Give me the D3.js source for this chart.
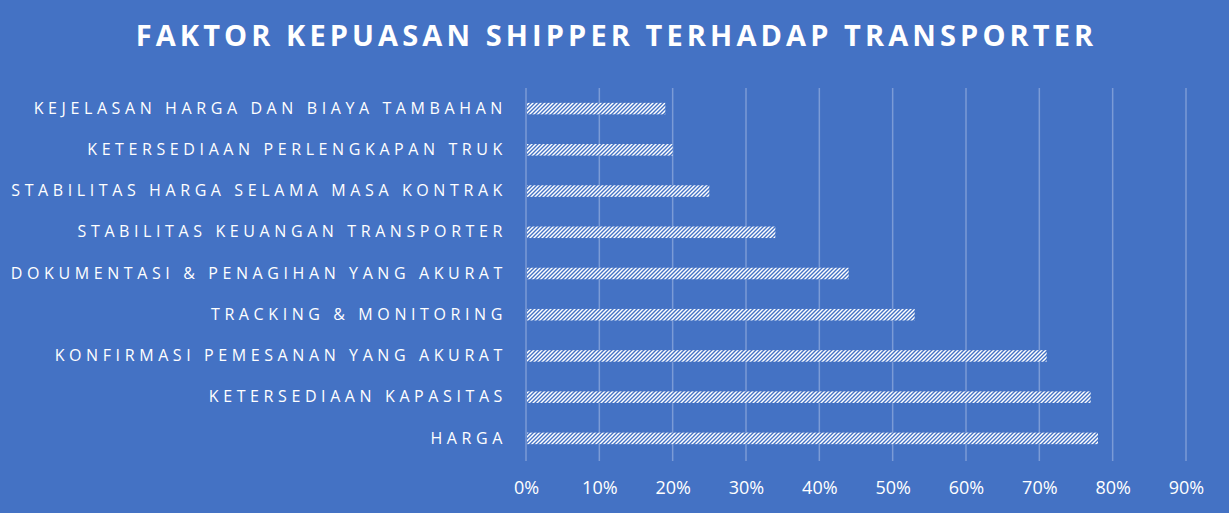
<!DOCTYPE html>
<html>
<head>
<meta charset="utf-8">
<script src="https://cdn.jsdelivr.net/npm/d3@7"></script>
<style>
  body { margin: 0; background: #4472c4; }
  svg text { fill: #fff; }
</style>
</head>
<body>
<div id="chart"></div>
<script>
// data (top to bottom)
var categories = [
  "KEJELASAN HARGA DAN BIAYA TAMBAHAN",
  "KETERSEDIAAN PERLENGKAPAN TRUK",
  "STABILITAS HARGA SELAMA MASA KONTRAK",
  "STABILITAS KEUANGAN TRANSPORTER",
  "DOKUMENTASI & PENAGIHAN YANG AKURAT",
  "TRACKING & MONITORING",
  "KONFIRMASI PEMESANAN YANG AKURAT",
  "KETERSEDIAAN KAPASITAS",
  "HARGA"
];
var values = [0.19, 0.20, 0.25, 0.34, 0.44, 0.53, 0.71, 0.77, 0.78];
var tickValues = [0, 0.1, 0.2, 0.3, 0.4, 0.5, 0.6, 0.7, 0.8, 0.9];
var title = "FAKTOR KEPUASAN SHIPPER TERHADAP TRANSPORTER";

var W = 1229, H = 513;
var margin = {top: 88, right: 43, bottom: 54, left: 526},
    width = W - margin.left - margin.right,
    height = H - margin.top - margin.bottom;

var svg = d3.select("#chart")
  .append("svg")
    .attr("width", W)
    .attr("height", H);

svg.append("rect")
  .attr("width", W).attr("height", H)
  .attr("fill", "#4472c4");

// striped fill for the bars
var pat = svg.append("defs").append("pattern")
  .attr("id", "stripes")
  .attr("patternUnits", "userSpaceOnUse")
  .attr("width", 4).attr("height", 4);
pat.append("rect").attr("width", 4).attr("height", 4).attr("fill", "#fff");
pat.append("path")
  .attr("d", "M-1,1 l2,-2 M0,4 l4,-4 M3,5 l2,-2")
  .attr("stroke", "#4472c4")
  .attr("stroke-width", 1.4);

svg.append("text")
  .attr("x", W / 2 + 2)
  .attr("y", 46)
  .attr("text-anchor", "middle")
  .style("font-family", "'Open Sans', sans-serif")
  .style("font-weight", "bold")
  .style("font-size", "29px")
  .style("letter-spacing", "4.1px")
  .text(title);

var g = svg.append("g")
  .attr("transform", "translate(" + margin.left + "," + margin.top + ")");

var x = d3.scaleLinear()
  .domain([0, 0.9])
  .range([0, 660]);

var y = d3.scaleBand()
  .domain(categories)
  .range([0, height])
  .paddingInner(0.72)
  .paddingOuter(0.36);

// gridlines
g.selectAll(".grid")
  .data(tickValues)
  .enter().append("line")
    .attr("x1", function(d) { return x(d); })
    .attr("x2", function(d) { return x(d); })
    .attr("y1", 0)
    .attr("y2", height + 2)
    .attr("stroke", "#7b9bd6")
    .attr("stroke-width", 1.5);

// bars
g.selectAll(".bar")
  .data(values)
  .enter().append("rect")
    .attr("x", x(0) + 1)
    .attr("y", function(d, i) { return y(categories[i]); })
    .attr("width", function(d) { return x(d) - x(0) - 1; })
    .attr("height", y.bandwidth())
    .attr("fill", "url(#stripes)");

// category labels
var yAxis = g.append("g")
  .call(d3.axisLeft(y).tickSize(0).tickPadding(19));
yAxis.select(".domain").remove();
yAxis.selectAll("text")
  .style("font-family", "'Open Sans', sans-serif")
  .style("font-size", "16px")
  .style("letter-spacing", "4.6px");

// x axis
var xAxis = g.append("g")
  .attr("transform", "translate(0," + (height + 2) + ")")
  .call(d3.axisBottom(x).tickValues(tickValues).tickSize(0).tickPadding(20)
    .tickFormat(d3.format(".0%")));
xAxis.select(".domain").remove();
xAxis.selectAll("text")
  .style("font-family", "'Open Sans', sans-serif")
  .style("font-size", "18px");
</script>
</body>
</html>
